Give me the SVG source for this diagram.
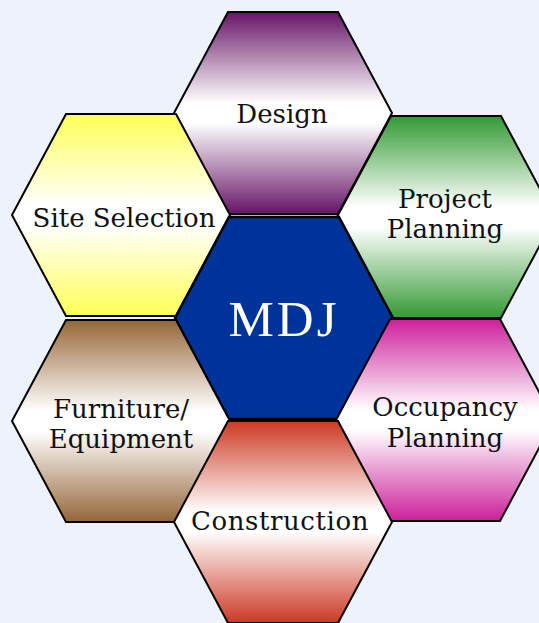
<svg xmlns="http://www.w3.org/2000/svg" width="539" height="623" viewBox="0 0 539 623">
<style>
.hex{stroke:#000;stroke-width:2;stroke-linejoin:miter}
.lbl{font-family:"DejaVu Serif","Liberation Serif",serif;font-size:26px;fill:#111;text-anchor:middle}
.mdj{font-family:"Liberation Serif","Times New Roman",serif;font-size:51px;fill:#fff;text-anchor:middle;letter-spacing:3px}
</style>
<defs>
<polygon id="hx" points="-55,-101 55,-101 109,0 55,101 -55,101 -109,0"/>
<linearGradient id="gPurple" x1="0" y1="0" x2="0" y2="1"><stop offset="0" stop-color="#661466"/><stop offset="0.45" stop-color="#fff"/><stop offset="0.55" stop-color="#fff"/><stop offset="1" stop-color="#661466"/></linearGradient>
<linearGradient id="gYellow" x1="0" y1="0" x2="0" y2="1"><stop offset="0" stop-color="#ffff55"/><stop offset="0.45" stop-color="#fff"/><stop offset="0.55" stop-color="#fff"/><stop offset="1" stop-color="#ffff55"/></linearGradient>
<linearGradient id="gGreen" x1="0" y1="0" x2="0" y2="1"><stop offset="0" stop-color="#339933"/><stop offset="0.45" stop-color="#fff"/><stop offset="0.55" stop-color="#fff"/><stop offset="1" stop-color="#339933"/></linearGradient>
<linearGradient id="gBrown" x1="0" y1="0" x2="0" y2="1"><stop offset="0" stop-color="#956638"/><stop offset="0.45" stop-color="#fff"/><stop offset="0.55" stop-color="#fff"/><stop offset="1" stop-color="#956638"/></linearGradient>
<linearGradient id="gMagenta" x1="0" y1="0" x2="0" y2="1"><stop offset="0" stop-color="#cc1f99"/><stop offset="0.45" stop-color="#fff"/><stop offset="0.55" stop-color="#fff"/><stop offset="1" stop-color="#cc1f99"/></linearGradient>
<linearGradient id="gRed" x1="0" y1="0" x2="0" y2="1"><stop offset="0" stop-color="#cc3822"/><stop offset="0.45" stop-color="#fff"/><stop offset="0.55" stop-color="#fff"/><stop offset="1" stop-color="#cc3822"/></linearGradient>
</defs>
<rect width="539" height="623" fill="#eef2fd"/>
<g id="design" transform="translate(283,113)">
<use href="#hx" class="hex" fill="url(#gPurple)"/>
<text class="lbl" x="-1" y="10">Design</text>
</g>
<g id="site-selection" transform="translate(121,215)">
<use href="#hx" class="hex" fill="url(#gYellow)"/>
<text class="lbl" x="3" y="12">Site Selection</text>
</g>
<g id="project-planning" transform="translate(446,217)">
<use href="#hx" class="hex" fill="url(#gGreen)"/>
<text class="lbl" x="-1" y="-9">Project</text>
<text class="lbl" x="-1" y="21">Planning</text>
</g>
<g id="mdj" transform="translate(284,318)">
<use href="#hx" class="hex" fill="#003399" style="stroke-width:2.5"/>
<text class="mdj" x="0" y="18">MDJ</text>
</g>
<g id="furniture-equipment" transform="translate(121,421)">
<use href="#hx" class="hex" fill="url(#gBrown)"/>
<text class="lbl" x="0" y="-3">Furniture/</text>
<text class="lbl" x="0" y="27">Equipment</text>
</g>
<g id="occupancy-planning" transform="translate(445,420)">
<use href="#hx" class="hex" fill="url(#gMagenta)"/>
<text class="lbl" x="0" y="-4">Occupancy</text>
<text class="lbl" x="0" y="27">Planning</text>
</g>
<g id="construction" transform="translate(283,522)">
<use href="#hx" class="hex" fill="url(#gRed)"/>
<text class="lbl" x="-3" y="8" style="letter-spacing:0.6px">Construction</text>
</g>
<g id="connectors"/>
</svg>
